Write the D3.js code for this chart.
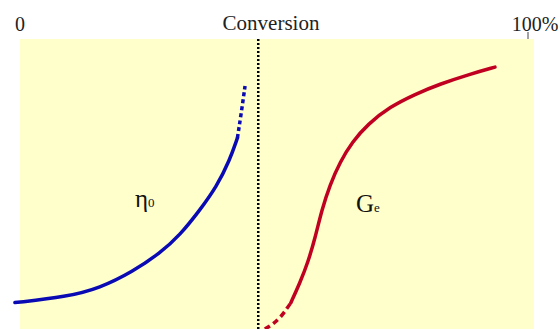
<!DOCTYPE html>
<html><head><meta charset="utf-8">
<script src="https://cdn.jsdelivr.net/npm/d3@7"></script>
<style>html,body{margin:0;padding:0;background:#fff;}svg{display:block;}</style>
</head><body>
<script>
// Conversion (%) vs relative property level (0-100, arbitrary)
const etaSolidX = [-1.0, 9.2, 15.7, 22.2, 27.6, 31.5, 35.4, 38.7, 41.3, 42.8];
const etaSolidY = [9.1, 11.1, 14.1, 19.8, 26.2, 32.4, 41.0, 49.1, 58.3, 65.9];
const etaDotX = [42.8, 43.5, 44.3];
const etaDotY = [65.9, 73.8, 83.8];
const geDashX = [48.2, 49.6, 51.2, 52.6, 53.3];
const geDashY = [0, 1.4, 3.8, 7.2, 9.0];
const geSolidX = [53.3, 55.1, 56.7, 58.1, 59.4, 61.0, 63.0, 65.4, 68.5, 72.8, 77.8, 82.7, 88.6, 93.5];
const geSolidY = [9.0, 15.9, 23.1, 31.4, 41.0, 49.7, 57.6, 64.5, 70.7, 76.6, 81.0, 84.5, 87.9, 90.3];
const gelPoint = [46.9];
const tickValues = [0, 100];
const tickLabels = ["0", "100%"];
const axisTitle = "Conversion";

const W = 560, H = 329;
const svg = d3.select("body").append("svg").attr("width", W).attr("height", H);
const x = d3.scaleLinear().domain([0, 100]).range([20, 528]);
const y = d3.scaleLinear().domain([0, 100]).range([329, 39]);

// background panel
svg.append("rect").attr("x", 20).attr("y", 39).attr("width", 514).attr("height", 290).attr("fill", "#ffffcc");

// top labels
const serif = "'Liberation Serif','Times New Roman',serif";
svg.append("g").selectAll("text").data(tickValues).join("text")
  .attr("x", (d) => x(d)).attr("dx", (d, i) => i === 0 ? 0 : 7).attr("y", 31)
  .attr("text-anchor", "middle").attr("font-family", serif).attr("font-size", 20).attr("fill", "#222")
  .text((d, i) => tickLabels[i]);
svg.append("line").attr("x1", x(100)).attr("x2", x(100)).attr("y1", 32).attr("y2", 39).attr("stroke", "#444").attr("stroke-width", 1);
svg.append("text").attr("x", 271).attr("y", 30).attr("text-anchor", "middle")
  .attr("font-family", serif).attr("font-size", 21).attr("fill", "#222").text(axisTitle);

// gel point dotted line
svg.selectAll(".gel").data(gelPoint).join("line")
  .attr("x1", (d) => x(d)).attr("x2", (d) => x(d)).attr("y1", 39).attr("y2", 329)
  .attr("stroke", "#000").attr("stroke-width", 2.5).attr("stroke-dasharray", "2,2");

const line = d3.line().x((d) => x(d[0])).y((d) => y(d[1])).curve(d3.curveBasis);
const zip = (a, b) => a.map((v, i) => [v, b[i]]);
const blue = "#0a0ab4", red = "#c00020";

svg.append("path").attr("d", line(zip(etaSolidX, etaSolidY))).attr("fill", "none").attr("stroke", blue).attr("stroke-width", 3.5).attr("stroke-linecap", "round");
svg.append("path").attr("d", line(zip(etaDotX, etaDotY))).attr("fill", "none").attr("stroke", blue).attr("stroke-width", 3.5).attr("stroke-dasharray", "4,3");
svg.append("path").attr("d", line(zip(geDashX, geDashY))).attr("fill", "none").attr("stroke", red).attr("stroke-width", 3.5).attr("stroke-dasharray", "6,4");
svg.append("path").attr("d", line(zip(geSolidX, geSolidY))).attr("fill", "none").attr("stroke", red).attr("stroke-width", 3.5).attr("stroke-linecap", "round");

// curve labels
const lab1 = svg.append("text").attr("x", 135).attr("y", 207).attr("font-family", serif).attr("font-size", 25).attr("fill", "#111");
lab1.append("tspan").text("η");
lab1.append("tspan").attr("font-size", 13).text("0");
const lab2 = svg.append("text").attr("x", 356).attr("y", 212).attr("font-family", serif).attr("font-size", 25).attr("fill", "#111");
lab2.append("tspan").text("G");
lab2.append("tspan").attr("font-size", 13).text("e");
</script>
</body></html>
